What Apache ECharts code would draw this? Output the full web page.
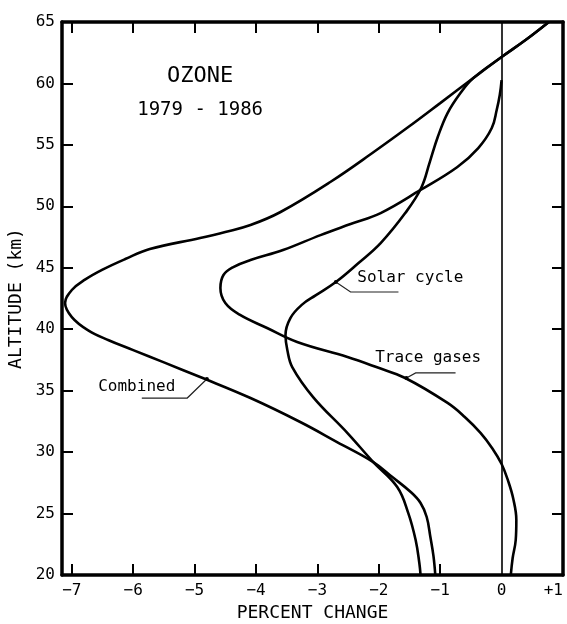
<!DOCTYPE html>
<html>
<head>
<meta charset="utf-8">
<script src="https://cdn.jsdelivr.net/npm/echarts@6/dist/echarts.min.js"></script>
<style>
  html, body { margin: 0; padding: 0; background: #fff; }
  #main { width: 567px; height: 624px; }
</style>
</head>
<body>
<div id="main"></div>
<script>
const FONT = "'DejaVu Sans Mono', monospace"

// [percent change, altitude km] top to bottom
const combined = [
  [0.77, 65], [0.39, 63.53], [0.0, 62.15], [-0.46, 60.44], [-1.0, 58.4],
  [-1.52, 56.45], [-2.06, 54.5], [-2.79, 51.98], [-3.6, 49.54], [-4.09, 48.48],
  [-4.5, 47.91], [-4.91, 47.42], [-5.73, 46.53], [-6.13, 45.71], [-6.5, 44.85],
  [-6.78, 44.05], [-7.0, 43.19], [-7.11, 42.13], [-7.0, 40.99], [-6.74, 39.93],
  [-6.4, 39.1], [-6.0, 38.3], [-5.5, 37.3], [-4.91, 36.11], [-4.09, 34.4],
  [-3.28, 32.45], [-2.68, 30.82], [-2.09, 29.19], [-1.78, 27.97], [-1.48, 26.75],
  [-1.32, 25.86], [-1.22, 24.72], [-1.16, 23.09], [-1.11, 21.55], [-1.08, 20]
]
const solarCycle = [
  [0.77, 65], [0.39, 63.53], [0.0, 62.15], [-0.46, 60.44], [-0.67, 59.22],
  [-0.88, 57.59], [-1.04, 55.64], [-1.17, 53.6], [-1.31, 51.49], [-1.57, 49.45],
  [-1.97, 47.01], [-2.33, 45.39], [-2.7, 43.84], [-3.03, 42.75], [-3.25, 42.0],
  [-3.44, 40.91], [-3.52, 39.53], [-3.49, 38.31], [-3.41, 36.92], [-3.07, 34.48],
  [-2.51, 31.55], [-2.09, 29.19], [-1.7, 27.16], [-1.52, 25.04], [-1.4, 22.85],
  [-1.34, 20.98], [-1.32, 20]
]
const traceGases = [
  [0.0, 60.28], [-0.03, 59.06], [-0.08, 57.84], [-0.16, 56.37], [-0.38, 54.74],
  [-0.72, 53.2], [-1.32, 51.33], [-1.97, 49.45], [-2.46, 48.56], [-2.95, 47.66],
  [-3.56, 46.44], [-4.09, 45.63], [-4.37, 45.06], [-4.53, 44.41], [-4.58, 43.35],
  [-4.5, 42.13], [-4.26, 41.16], [-3.82, 40.1], [-3.33, 38.96], [-2.51, 37.74],
  [-2.04, 36.92], [-1.57, 36.03], [-0.88, 34.0], [-0.6, 32.86], [-0.34, 31.55],
  [-0.15, 30.3], [0.0, 29.03], [0.11, 27.6], [0.19, 26.2], [0.24, 24.48],
  [0.23, 22.85], [0.18, 21.38], [0.15, 20]
]

const xTicks = [-7, -6, -5, -4, -3, -2, -1]
const xLabels = [-7, -6, -5, -4, -3, -2, -1, 0, 1]
const yTicks = [25, 30, 35, 40, 45, 50, 55, 60]

// annotation texts [label, x, y] and their leader lines
const notes = [
  ['Solar cycle', -2.35, 44.17],
  ['Trace gases', -2.06, 37.66],
  ['Combined', -6.57, 35.3]
]
const leaders = [
  [[-2.7, 43.84], [-2.46, 43.03], [-1.68, 43.03]],
  [[-1.55, 36.03], [-1.40, 36.44], [-0.75, 36.44]],
  [[-4.8, 35.95], [-5.12, 34.4], [-5.86, 34.4]]
]

const frame = { show: true, onZero: false, lineStyle: { color: '#000', width: 3.5 } }
const tick = (vals) => ({
  show: true, inside: true, length: 11, customValues: vals,
  lineStyle: { color: '#000', width: 2 }
})

const chart = echarts.init(document.getElementById('main'))

const lineSeries = (name, data) => ({
  name, type: 'line', data, smooth: 0.4, showSymbol: false,
  lineStyle: { color: '#000', width: 2.6 }, z: 3
})

chart.setOption({
  animation: false,
  grid: { left: 62, right: 4, top: 22, bottom: 49, containLabel: false, outerBoundsMode: 'none' },
  xAxis: [
    {
      type: 'value', min: -7.16, max: 1, position: 'bottom',
      axisLine: frame, splitLine: { show: false },
      axisTick: tick(xTicks),
      axisLabel: {
        customValues: xLabels, color: '#000', fontFamily: FONT, fontSize: 16, margin: 8,
        hideOverlap: false, alignMaxLabel: 'right',
        formatter: v => v > 0 ? '+' + v : (v < 0 ? '\u2212' + (-v) : '0')
      },
      name: 'PERCENT CHANGE', nameLocation: 'middle', nameGap: 29,
      nameTextStyle: { color: '#000', fontFamily: FONT, fontSize: 18 }
    },
    {
      type: 'value', min: -7.16, max: 1, position: 'top',
      axisLine: frame, splitLine: { show: false },
      axisTick: tick(xTicks), axisLabel: { show: false }
    }
  ],
  yAxis: [
    {
      type: 'value', min: 20, max: 65, interval: 5, position: 'left',
      axisLine: frame, splitLine: { show: false },
      axisTick: tick(yTicks),
      axisLabel: { color: '#000', fontFamily: FONT, fontSize: 16, margin: 7 },
      name: 'ALTITUDE (km)', nameLocation: 'middle', nameGap: 36, nameRotate: 90,
      nameTextStyle: { color: '#000', fontFamily: FONT, fontSize: 18 }
    },
    {
      type: 'value', min: 20, max: 65, interval: 5, position: 'right',
      axisLine: frame, splitLine: { show: false },
      axisTick: tick(yTicks), axisLabel: { show: false }
    }
  ],
  series: [
    lineSeries('Combined', combined),
    lineSeries('Solar cycle', solarCycle),
    lineSeries('Trace gases', traceGases),
    {
      type: 'line', data: [], silent: true,
      markLine: {
        symbol: 'none', silent: true, label: { show: false },
        lineStyle: { color: '#000', width: 1.6, type: 'solid' },
        data: [{ xAxis: 0 }]
      }
    }
  ]
})

const px = p => chart.convertToPixel({ gridIndex: 0 }, p)
const graphic = []
notes.forEach(([t, x, y]) => {
  const [a, b] = px([x, y])
  graphic.push({
    type: 'text', x: a, y: b, z: 10,
    style: { text: t, fill: '#000', font: '16px ' + FONT, textVerticalAlign: 'middle' }
  })
})
leaders.forEach(pts => {
  const p = pts.map(px)
  graphic.push({
    type: 'polyline', z: 10,
    shape: { points: p },
    style: { stroke: '#222', lineWidth: 1.2, fill: null }
  })
  graphic.push({ type: 'circle', z: 10, shape: { cx: p[0][0], cy: p[0][1], r: 2 }, style: { fill: '#000' } })
})
const [ox, oy] = px([-4.91, 60.6])
graphic.push({
  type: 'text', x: ox, y: oy, z: 10,
  style: { text: 'OZONE', fill: '#000', font: '22px ' + FONT, textAlign: 'center', textVerticalAlign: 'middle' }
})
const [yx, yy] = px([-4.91, 57.85])
graphic.push({
  type: 'text', x: yx, y: yy, z: 10,
  style: { text: '1979 - 1986', fill: '#000', font: '19px ' + FONT, textAlign: 'center', textVerticalAlign: 'middle' }
})
chart.setOption({ graphic })
</script>
</body>
</html>
